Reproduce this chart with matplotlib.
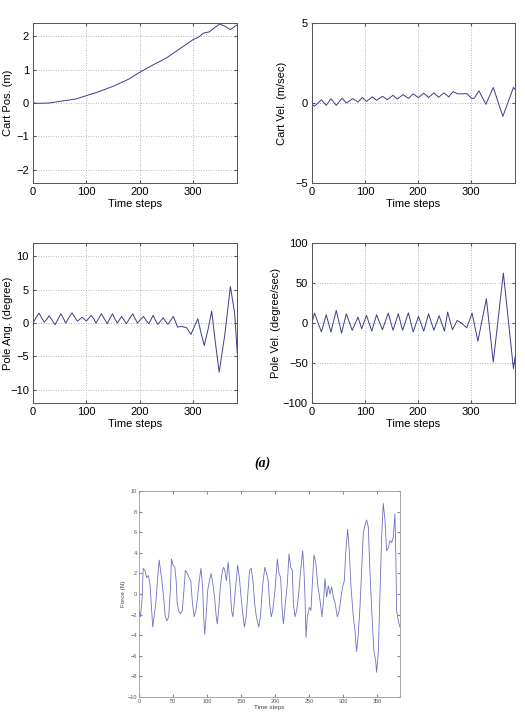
import numpy as np
import matplotlib
matplotlib.use('Agg')
import matplotlib.pyplot as plt

plt.rcParams['font.family'] = ['Liberation Sans', 'DejaVu Sans']

# cart position (m)
pos_t = [0, 10, 30, 50, 60, 80, 100, 120, 150, 180, 200, 220, 250, 280, 300,
         310, 320, 330, 340, 350, 360, 370, 383]
pos_v = [0, -0.01, 0.0, 0.05, 0.07, 0.12, 0.22, 0.32, 0.5, 0.72, 0.92, 1.1, 1.35,
         1.68, 1.9, 1.97, 2.1, 2.13, 2.25, 2.37, 2.3, 2.2, 2.35]

# cart velocity (m/sec)
vel_t = [0, 5, 18, 27, 36, 46, 57, 65, 77, 87, 95, 103, 114, 122, 133, 142, 153,
         161, 172, 182, 191, 201, 211, 220, 230, 239, 249, 258, 266, 275, 285, 292,
         301, 306, 315, 328, 342, 360, 380, 383]
vel_v = [-0.08, -0.2, 0.2, -0.15, 0.27, -0.15, 0.3, 0.0, 0.27, 0.06, 0.34, 0.1,
         0.38, 0.17, 0.42, 0.21, 0.48, 0.25, 0.52, 0.29, 0.57, 0.34, 0.61, 0.34,
         0.63, 0.36, 0.63, 0.38, 0.71, 0.57, 0.57, 0.59, 0.29, 0.29, 0.76, -0.08,
         0.97, -0.84, 0.97, 0.84]

# pole angle (degree)
ang_t = [0, 6, 11, 16, 21, 26, 30, 36, 41, 47, 52, 57, 61, 67, 73, 78, 83, 88, 92,
         96, 100, 104, 109, 114, 118, 123, 128, 134, 139, 144, 149, 153, 158, 162,
         166, 171, 175, 181, 187, 191, 196, 201, 207, 212, 217, 221, 225, 229, 234,
         239, 244, 248, 253, 258, 263, 271, 278, 288, 296, 302, 309, 315, 321, 328,
         335, 342, 349, 360, 370, 378, 383]
ang_v = [0, 0.9, 1.5, 0.8, 0.15, 0.6, 1.1, 0.4, -0.25, 0.6, 1.4, 0.7, 0, 0.8, 1.55,
         0.9, 0.3, 0.6, 0.9, 0.6, 0.3, 0.7, 1.15, 0.6, 0, 0.7, 1.4, 0.6, -0.1, 0.7,
         1.4, 0.7, 0, 0.5, 1.0, 0.4, -0.1, 0.7, 1.4, 0.7, 0, 0.5, 1.0, 0.4, -0.1, 0.5,
         1.15, 0.5, -0.2, 0.3, 0.8, 0.3, -0.2, 0.4, 1.0, -0.6, -0.5, -0.7, -1.7, -0.6,
         0.65, -1.5, -3.35, -1.0, 1.8, -3.0, -7.35, -1.5, 5.5, 1.5, -4.6]

# pole velocity (degree/sec)
pv_t = [0, 5, 18, 27, 36, 46, 56, 65, 76, 87, 94, 103, 113, 122, 133, 144, 153,
        163, 171, 182, 191, 201, 211, 220, 230, 240, 250, 256, 265, 274, 282, 292,
        302, 313, 329, 342, 361, 380, 383]
pv_v = [0, 12.5, -11, 10.4, -11, 15.8, -12.5, 11.7, -9, 7.5, -7, 9.6, -10, 10.4,
        -8.3, 12.5, -9, 11.7, -9, 12.9, -11, 8.3, -10, 11.7, -9, 9.2, -10, 13.75,
        -8.3, 3.3, 0, -5.8, 12.5, -22.5, 30.4, -48.75, 62.5, -57, -42.5]

# force (N)
f_t = [0, 2, 4.5, 6, 8.5, 11, 13.5, 16, 18.5, 20, 22, 24.5, 27, 29.5, 32, 33.5, 36,
       38.5, 41, 43.5, 46, 47.5, 50, 52.5, 54.5, 56, 58.5, 61, 63.5, 66, 68, 71,
       73.5, 76, 78.5, 81, 83.5, 86, 88.5, 91, 93.5, 95, 96.5, 98.5, 101, 103.5,
       106, 108.5, 111, 113.5, 115, 117, 119.5, 122.5, 124.5, 126, 128.5, 131,
       133.5, 136, 138, 140, 142, 145, 147.5, 150, 152.5, 155, 157.5, 160, 162.5,
       165, 167.5, 170, 172.5, 176, 178.5, 182, 185, 187.5, 190, 192, 194.5, 196.6,
       200, 203.4, 205.9, 208.3, 210.3, 212.3, 214.7, 218.1, 220.6, 223, 225.5, 227,
       229.4, 231.9, 234.3, 237.7, 240.7, 242.6, 244.1, 245.6, 247.5, 250.5, 252.9,
       255.4, 257.4, 260.3, 262.7, 266.2, 269.1, 271.1, 273.5, 276, 278.4, 280.9,
       283.3, 285.8, 288.2, 291.7, 294.6, 297.1, 299.5, 302, 303.9, 306.9, 309.3,
       311.8, 315.2, 317.6, 320.1, 322.5, 325, 327.5, 329.9, 332.4, 334.8, 337.3,
       338.7, 340.7, 343.1, 345.6, 348, 349.5, 352, 354.4, 356.9, 359.3, 361.8,
       364.2, 366.7, 369.1, 371.6, 374, 376.5, 377.9, 378.9, 381.4, 383.8]
f_v = [-1.6, -2.2, -0.3, 2.5, 2.3, 1.6, 1.8, 1.0, -1.6, -3.2, -2.2, -0.9, 1.3, 3.3,
       2.0, 1.3, -0.3, -2.2, -2.6, -2.2, 0.4, 3.4, 2.8, 2.6, 1.3, -0.9, -1.7, -1.9,
       -1.6, 0.4, 2.3, 2.0, 1.6, 1.3, -0.9, -2.2, -1.6, -0.3, 1.3, 2.5, 0.7, -2.2,
       -3.9, -2.2, 0.4, 1.3, 2.0, 1.0, -0.3, -2.2, -2.9, -1.6, 0.7, 2.3, 2.6, 2.3,
       1.3, 3.1, 1.3, -1.6, -2.2, -0.9, 0.7, 2.8, 1.6, -0.3, -1.9, -3.2, -2.2, 0.0,
       2.3, 2.5, 1.3, -0.9, -2.2, -3.2, -2.2, 1.0, 2.6, 2.0, 1.3, -0.9, -2.2, -1.6,
       0.4, 3.4, 2.0, 1.6, -1.3, -2.9, -1.3, 1.0, 3.9, 2.6, 2.3, -0.9, -2.2, -1.6,
       -0.3, 2.3, 4.2, 2.3, -0.3, -4.2, -2.2, -1.3, -1.6, 1.6, 3.8, 2.9, 1.0, -0.6,
       -2.2, -0.9, 1.5, -0.3, 0.8, 0, 0.7, -0.3, -0.8, -2.2, -1.6, -0.3, 0.7, 1.3,
       3.9, 6.3, 4.2, 0.7, -2.2, -3.5, -5.6, -3.9, -1.3, 2.3, 5.9, 6.7, 7.2, 6.5,
       3.9, 0.7, -2.6, -5.6, -6.4, -7.6, -5.6, -0.3, 5.5, 8.8, 7.2, 4.2, 4.5, 5.2,
       5.0, 5.5, 7.8, 3.3, -1.6, -2.6, -3.2]

line_col = '#3c3c8c'
fs = 8.0

fig = plt.figure(figsize=(5.25, 7.25), dpi=100)


def style_top(ax, ylim, yticks, ylabel, label_x):
    ax.set_xlim(0, 383)
    ax.set_ylim(*ylim)
    ax.set_xticks([0, 100, 200, 300])
    ax.set_yticks(yticks)
    ax.tick_params(direction='in', length=2.5, labelsize=fs, top=True, right=True,
                   color='#555555', pad=3)
    ax.grid(True, linestyle=(0, (1, 2)), color='#a0a0a0', linewidth=0.6)
    for s in ax.spines.values():
        s.set_color('#555555')
        s.set_linewidth(0.7)
    ax.set_xlabel('Time steps', fontsize=fs, labelpad=1)
    ax.set_ylabel(ylabel, fontsize=fs)
    ax.yaxis.set_label_coords(label_x, 0.5)


ax1 = fig.add_axes([0.063, 0.7476, 0.389, 0.2207])
ax1.plot(pos_t, pos_v, color=line_col, lw=0.7)
style_top(ax1, (-2.4, 2.4), [-2, -1, 0, 1, 2], 'Cart Pos. (m)', -0.1)

ax2 = fig.add_axes([0.594, 0.7476, 0.387, 0.2207])
ax2.plot(vel_t, vel_v, color=line_col, lw=0.7)
style_top(ax2, (-5, 5), [-5, 0, 5], 'Cart Vel. (m/sec)', -0.12)

ax3 = fig.add_axes([0.063, 0.444, 0.389, 0.2207])
ax3.plot(ang_t, ang_v, color=line_col, lw=0.7)
style_top(ax3, (-12, 12), [-10, -5, 0, 5, 10], 'Pole Ang. (degree)', -0.1)

ax4 = fig.add_axes([0.594, 0.444, 0.387, 0.2207])
ax4.plot(pv_t, pv_v, color=line_col, lw=0.7)
style_top(ax4, (-100, 100), [-100, -50, 0, 50, 100], 'Pole Vel. (degree/sec)', -0.15)

fig.text(0.5, 1 - 463 / 725, '(a)', ha='center', va='center', fontsize=10,
         fontweight='bold', fontstyle='italic', family='Liberation Serif')

ax5 = fig.add_axes([0.265, 0.0386, 0.497, 0.284])
ax5.plot(f_t, f_v, color='#7070c0', lw=0.6)
ax5.set_xlim(0, 384)
ax5.set_ylim(-10, 10)
ax5.set_xticks(np.arange(0, 351, 50))
ax5.set_yticks(np.arange(-10, 11, 2))
ax5.tick_params(direction='in', length=2, labelsize=4, top=True, right=True,
                color='#888888', labelcolor='#555555', pad=1.5)
for s in ax5.spines.values():
    s.set_color('#999999')
    s.set_linewidth(0.6)
ax5.set_xlabel('Time steps', fontsize=4.5, labelpad=1, color='#444444')
ax5.set_ylabel('Force (N)', fontsize=4.5, labelpad=1, color='#444444')

fig.savefig('out.png', dpi=100)
